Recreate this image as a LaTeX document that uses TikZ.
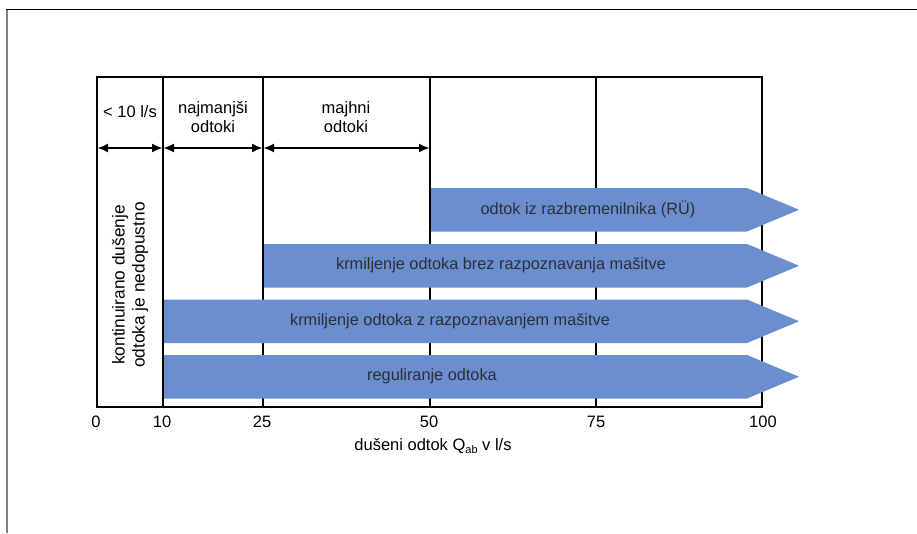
\documentclass[tikz,border=0pt]{standalone}
\usepackage{fontspec}
\setmainfont{Liberation Sans}
\usetikzlibrary{arrows.meta}
\definecolor{barblue}{RGB}{106,142,206}
\definecolor{bartext}{RGB}{45,45,55}
\definecolor{framegray}{RGB}{130,130,130}
\newcommand\qbar[5]{%
  \fill[bar] (#2,#3) -- (747,#3) -- (799,#3+21.75) -- (747,#3+43.5) -- (#2,#3+43.5) -- cycle;
  \node[bartxt] (#1) at (#4,#3+21.75) {#5};}
\begin{document}
\begin{tikzpicture}[x=1pt,y=-1pt,
  grid/.style={line width=2pt},
  span/.style={line width=2.4pt,{Latex[length=11pt,width=9pt]}-{Latex[length=11pt,width=9pt]}},
  hdr/.style={font=\fontsize{16.5}{19}\selectfont,align=center,inner sep=0pt},
  bar/.style={fill=barblue},
  bartxt/.style={font=\fontsize{16.3}{19}\selectfont,text=bartext,inner sep=0pt},
  num/.style={font=\fontsize{16.5}{19}\selectfont,inner sep=0pt}]
\useasboundingbox (0,0) rectangle (917,533);
\fill[white] (0,0) rectangle (917,533);
% page frame
\coordinate (fl) at (6,9.5);
\coordinate (fr) at (917,9.5);
\coordinate (fb) at (7,533);
\draw[line width=1.5pt] (fl) -- (fr);
\draw[framegray,line width=2pt] (7,9.5) -- (fb);
% grid
\foreach \n/\x in {0/97,10/163,25/263,50/430,75/596,100/762} {
  \coordinate (t\n) at (\x,77);
  \coordinate (b\n) at (\x,407);
  \coordinate (a\n) at (\x,148);
}
\foreach \n in {10,25,50,75} \draw[grid] (t\n) -- (b\n);
\draw[grid] (t0) rectangle (b100);
% header spans
\draw[span] (a0) -- (a10);
\draw[span] (a10) -- (a25);
\draw[span] (a25) -- (a50);
\node[hdr] (h1) at (130,112) {< 10 l/s};
\node[hdr] (h2) at (213,117) {najmanjši\\odtoki};
\node[hdr] (h3) at (346,117) {majhni\\odtoki};
% vertical note
\node[hdr,font=\fontsize{17.3}{20}\selectfont,rotate=90] (note) at (130,285) {kontinuirano dušenje\\odtoka je nedopustno};
% bars
\qbar{r1}{431}{188}{588}{odtok iz razbremenilnika (RÜ)}
\qbar{r2}{264}{244}{501}{krmiljenje odtoka brez razpoznavanja mašitve}
\qbar{r3}{164}{299.5}{450}{krmiljenje odtoka z razpoznavanjem mašitve}
\qbar{r4}{164}{355}{432}{reguliranje odtoka}
% axis numbers
\node[num] (n0) at (96,422) {0};
\node[num] (n10) at (162,422) {10};
\node[num] (n25) at (262,422) {25};
\node[num] (n50) at (429,422) {50};
\node[num] (n75) at (596,422) {75};
\node[num] (n100) at (763,422) {100};
\node[num] (cap) at (433,446) {dušeni odtok Q\raisebox{-0.35ex}{\fontsize{11}{12}\selectfont ab} v l/s};
\end{tikzpicture}
\end{document}
